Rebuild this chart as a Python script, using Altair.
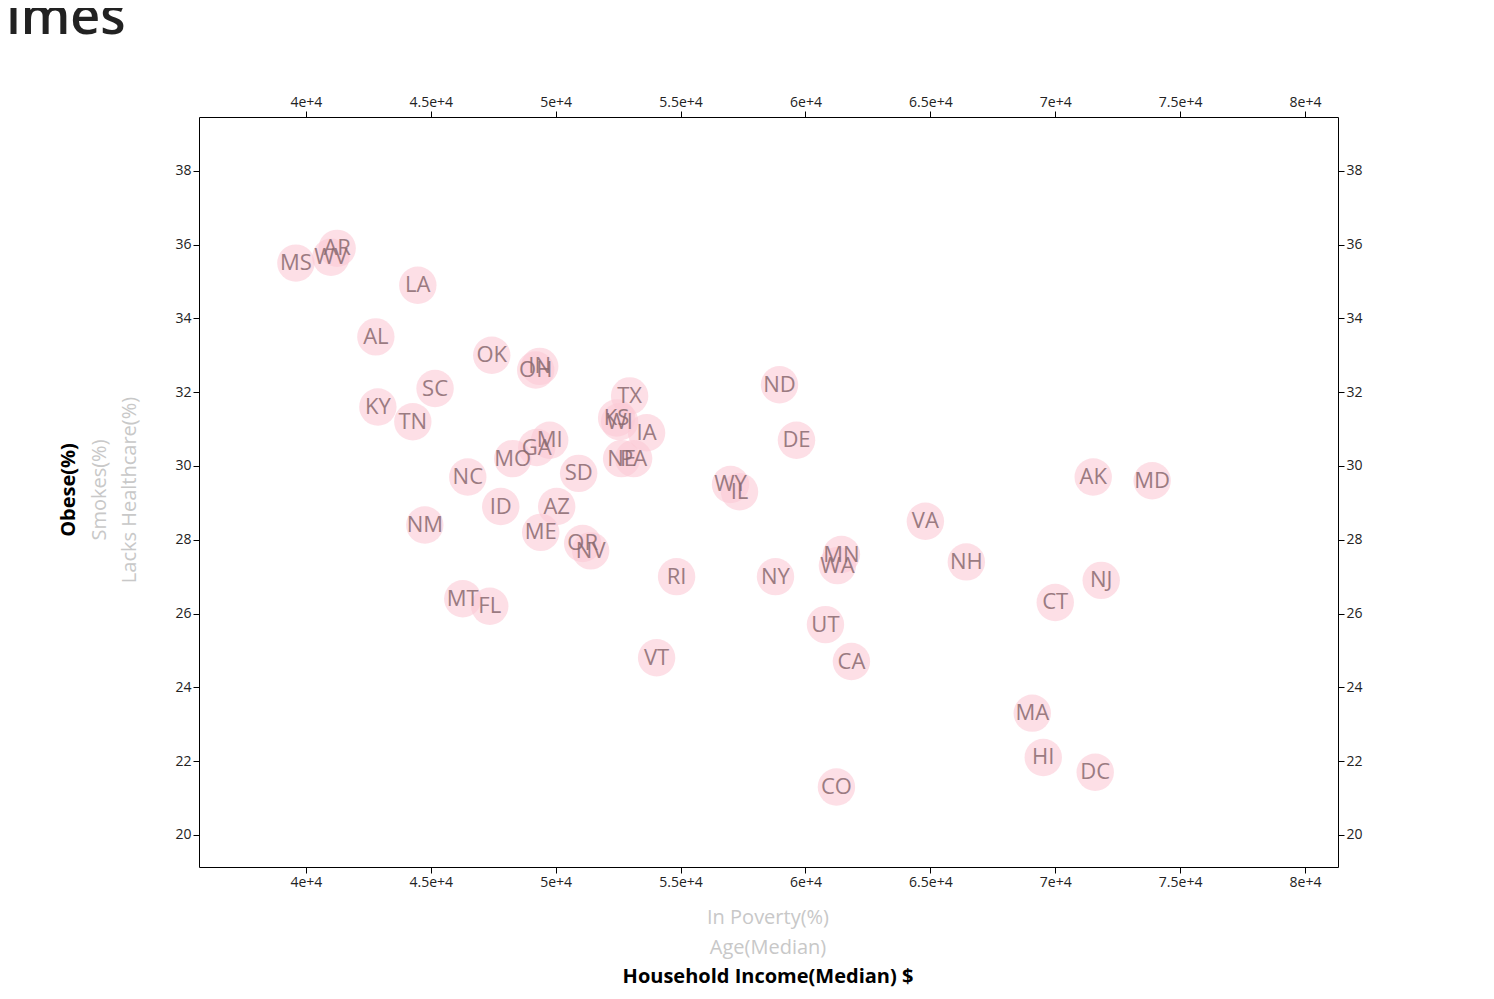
import pandas as pd
import altair as alt

states = ["MS", "WV", "AR", "LA", "AL", "OK", "IN", "OH", "SC", "KY", "TN", "TX", "KS",
          "WI", "IA", "ND", "DE", "MI", "GA", "MO", "NE", "PA", "SD", "NC", "WY", "IL",
          "ID", "AZ", "ME", "NM", "OR", "NV", "MN", "WA", "RI", "NY", "VA", "NH", "NJ",
          "CT", "AK", "MD", "MT", "FL", "UT", "CA", "VT", "MA", "HI", "DC", "CO"]
income = [39600, 41000, 41250, 44480, 42800, 47440, 49360, 49200, 45170, 42880, 44280,
          52960, 52440, 52560, 53640, 58960, 59640, 49760, 49240, 48280, 52640, 53120,
          50920, 46480, 57000, 57360, 47800, 50040, 49400, 44760, 51080, 51400, 61440,
          61280, 54840, 58800, 64800, 66440, 71840, 70000, 71520, 73880, 46280, 47360,
          60800, 61840, 54040, 69080, 69520, 71600, 61240]
obese = [35.5, 35.66, 35.9, 34.9, 33.5, 33.0, 32.7, 32.6, 32.1, 31.6, 31.2, 31.9, 31.3,
         31.2, 30.9, 32.2, 30.7, 30.7, 30.5, 30.2, 30.2, 30.2, 29.8, 29.7, 29.5, 29.3,
         28.9, 28.9, 28.2, 28.4, 27.9, 27.7, 27.6, 27.3, 27.0, 27.0, 28.5, 27.4, 26.9,
         26.3, 29.7, 29.6, 26.4, 26.2, 25.7, 24.7, 24.8, 23.3, 22.1, 21.7, 21.3]

df = pd.DataFrame({"state": states, "income": income, "obese": obese})

x_scale = alt.Scale(domain=[35720, 81320], nice=False, zero=False)
y_scale = alt.Scale(domain=[19.13, 39.46], nice=False, zero=False)

axis_style = dict(grid=False, domainColor="black", tickColor="black", labelFontSize=14,
                  labelColor="#222", labelFont="Open Sans", tickSize=6, title=None)

base = alt.Chart(df).encode(
    x=alt.X("income:Q", scale=x_scale,
            axis=alt.Axis(values=list(range(40000, 80001, 5000)), format=",", **axis_style)),
    y=alt.Y("obese:Q", scale=y_scale,
            axis=alt.Axis(values=list(range(20, 39, 2)), **axis_style)),
)

circles = base.mark_circle(size=1400, color="#fbc9d5", opacity=0.6)
labels = base.mark_text(fontSize=22, font="Open Sans", color="#8a6a70", opacity=0.85,
                        baseline="middle").encode(text="state:N")

# axis titles: the active one bold black, the inactive ones light grey
y_active = pd.DataFrame({"t": ["Obese(%)"], "px": [-130]})
y_inactive = pd.DataFrame({"t": ["Smokes(%)", "Lacks Healthcare(%)"], "px": [-99, -69]})
x_inactive = pd.DataFrame({"t": ["In Poverty(%)", "Age(Median)"], "py": [801, 831]})
x_active = pd.DataFrame({"t": ["Household Income(Median) $"], "py": [860]})


def y_title(d, weight, color):
    return alt.Chart(d).mark_text(angle=270, fontSize=20, font="Open Sans",
                                  fontWeight=weight, color=color).encode(
        x=alt.X("px:Q", scale=None), y=alt.value(373), text="t:N")


def x_title(d, weight, color):
    return alt.Chart(d).mark_text(fontSize=20, font="Open Sans",
                                  fontWeight=weight, color=color).encode(
        x=alt.value(569), y=alt.Y("py:Q", scale=None), text="t:N")


chart = alt.layer(
    circles, labels,
    y_title(y_active, "bold", "black"), y_title(y_inactive, "normal", "#c8c8c8"),
    x_title(x_active, "bold", "black"), x_title(x_inactive, "normal", "#c8c8c8"),
).resolve_scale(x="independent", y="independent").properties(
    width=1139, height=750,
    autosize=alt.AutoSizeParams(type="none"),
    padding={"left": 191, "top": 109, "right": 140, "bottom": 120},
    title=alt.Title("D3Times", anchor="start", fontSize=52, font="Open Sans",
                    fontWeight=600, color="#222", dx=-150, offset=50),
).configure_view(stroke=None)

chart.save("out.html", embed_options={"renderer": "svg", "actions": False})
